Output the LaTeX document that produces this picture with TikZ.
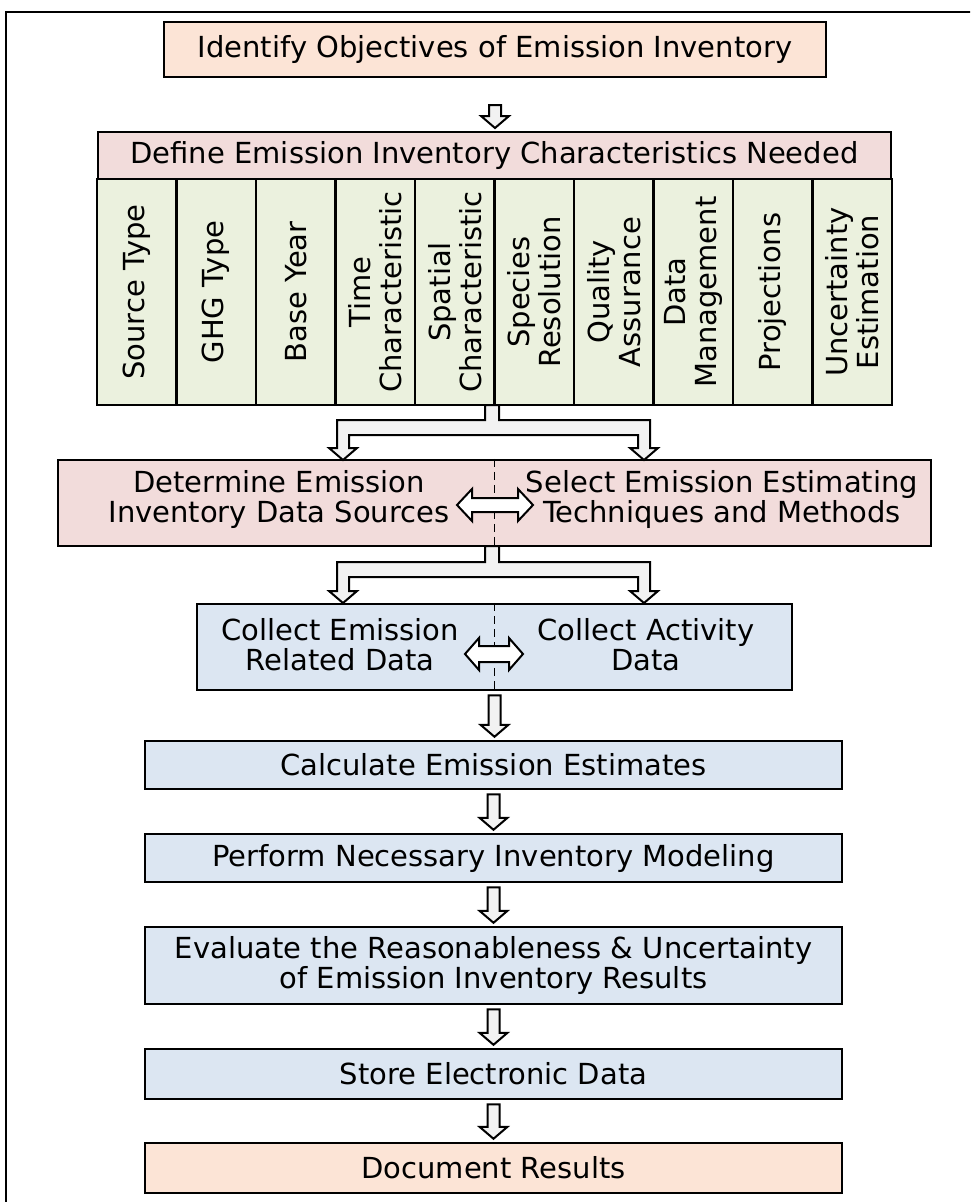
\documentclass[tikz,border=0pt]{standalone}
\usepackage{fontspec}
\setmainfont{DejaVu Sans}
\usetikzlibrary{calc}
\definecolor{peach}{HTML}{FCE4D6}
\definecolor{pinkbox}{HTML}{F2DCDB}
\definecolor{greenbox}{HTML}{EBF1DE}
\definecolor{bluebox}{HTML}{DCE6F2}
\definecolor{arrowfill}{HTML}{F2F2F2}
\newcommand{\downarr}[2]{%
  \draw[arr] let \p1=(#1), \p2=(#2) in
    (\x1-6pt,\y1) -- (\x1+6pt,\y1) -- (\x1+6pt,\y2+12pt) -- (\x1+14pt,\y2+12pt)
    -- (\x1,\y2) -- (\x1-14pt,\y2+12pt) -- (\x1-6pt,\y2+12pt) -- cycle;}
\newcommand{\dblarr}[5]{%
  \draw[dblarrowstyle] let \p1=(#1), \p2=(#2) in
    (\p1) -- (\x1+#5,\y1+#3) -- (\x1+#5,\y1+#4) -- (\x2-#5,\y1+#4) -- (\x2-#5,\y1+#3)
    -- (\x2,\y1) -- (\x2-#5,\y1-#3) -- (\x2-#5,\y1-#4) -- (\x1+#5,\y1-#4) -- (\x1+#5,\y1-#3) -- cycle;}
\newcommand{\barconn}[3]{% #1 top of block, #2 top of bar, #3 tip y
  \draw[arr] (485,#1) -- (499,#1) -- (499,#2) -- (650,#2) -- (650,#3-12) -- (658,#3-12)
    -- (644,#3) -- (630,#3-12) -- (638,#3-12) -- (638,#2+15) -- (349,#2+15) -- (349,#3-12)
    -- (357,#3-12) -- (343,#3) -- (329,#3-12) -- (337,#3-12) -- (337,#2) -- (485,#2) -- cycle;}
\begin{document}
\begin{tikzpicture}[x=1pt,y=-1pt,
  box/.style={draw=black, line width=2.5pt, inner sep=0pt, align=center,
    font=\fontsize{29}{30}\selectfont},
  txt/.style={inner sep=0pt, align=center, font=\fontsize{29}{30}\selectfont},
  col/.style={box, fill=greenbox, rotate=90, minimum width=226pt, minimum height=79.5pt,
    font=\fontsize{29}{31}\selectfont},
  arr/.style={draw=black, line width=2pt, fill=arrowfill, line join=miter},
  dblarrowstyle/.style={draw=black, line width=2pt, fill=white, line join=miter},
  sep/.style={draw=black, line width=1.5pt, dash pattern=on 8pt off 5pt}]
\useasboundingbox (0,0) rectangle (970,1202);
\clip (0,0) rectangle (970,1202);
\fill[white] (0,0) rectangle (970,1202);
\draw[line width=2pt] (6,12) rectangle (990,1230);

\node[box, fill=peach, minimum width=662pt, minimum height=55pt] (b1) at (495,49.5)
  {Identify Objectives of Emission Inventory};
\node[box, fill=pinkbox, minimum width=793pt, minimum height=47pt] (b2) at (494.5,155.5)
  {Define Emission Inventory Characteristics Needed};
\foreach \i/\t in {1/{Source Type},2/{GHG Type},3/{Base Year},4/{Time\\Characteristic},
  5/{Spatial\\Characteristic},6/{Species\\Resolution},7/{Quality\\Assurance},
  8/{Data\\Management},9/{Projections},10/{Uncertainty\\Estimation}}
  \node[col] (c\i) at ({136.75+79.5*(\i-1)},292) {\t};

\node[box, fill=pinkbox, minimum width=873pt, minimum height=86pt] (b3) at (494.5,503) {};
\draw[sep] (b3.north) -- (b3.south);
\node[txt] (b3l) at (279,499) {Determine Emission\\Inventory Data Sources};
\node[txt] (b3r) at (722,499) {Select Emission Estimating\\Techniques and Methods};

\node[box, fill=bluebox, minimum width=595pt, minimum height=86pt] (b4) at (494.5,647) {};
\draw[sep] (b4.north) -- (b4.south);
\node[txt] (b4l) at (340,645) {Collect Emission\\Related Data};
\node[txt] (b4r) at (646,645) {Collect Activity\\Data};

\node[box, fill=bluebox, minimum width=697pt, minimum height=48pt] (b5) at (493.5,765)
  {Calculate Emission Estimates};
\node[box, fill=bluebox, minimum width=697pt, minimum height=48pt] (b6) at (493.5,858)
  {Perform Necessary Inventory Modeling};
\node[box, fill=bluebox, minimum width=697pt, minimum height=77pt] (b7) at (493.5,965.5)
  {Evaluate the Reasonableness \& Uncertainty\\of Emission Inventory Results};
\node[box, fill=bluebox, minimum width=697pt, minimum height=50pt] (b8) at (493.5,1074)
  {Store Electronic Data};
\node[box, fill=peach, minimum width=697pt, minimum height=50pt] (b9) at (493.5,1168)
  {Document Results};

% connectors
\coordinate (a1s) at (495,105);
\coordinate (a1e) at (495,128);
\downarr{a1s}{a1e}
\barconn{405}{420}{460}
\barconn{546}{562}{603}
\dblarr{457,505}{533,505}{16pt}{7pt}{15pt}
\dblarr{465,654}{523,654}{16pt}{8pt}{14pt}
\downarr{$(b4.south)+(0,4)$}{$(b5.north)+(0,-3)$}
\downarr{$(b5.south)+(0,4)$}{$(b6.north)+(0,-3)$}
\downarr{$(b6.south)+(0,4)$}{$(b7.north)+(0,-3)$}
\downarr{$(b7.south)+(0,4)$}{$(b8.north)+(0,-3)$}
\downarr{$(b8.south)+(0,4)$}{$(b9.north)+(0,-3)$}
\end{tikzpicture}
\end{document}
